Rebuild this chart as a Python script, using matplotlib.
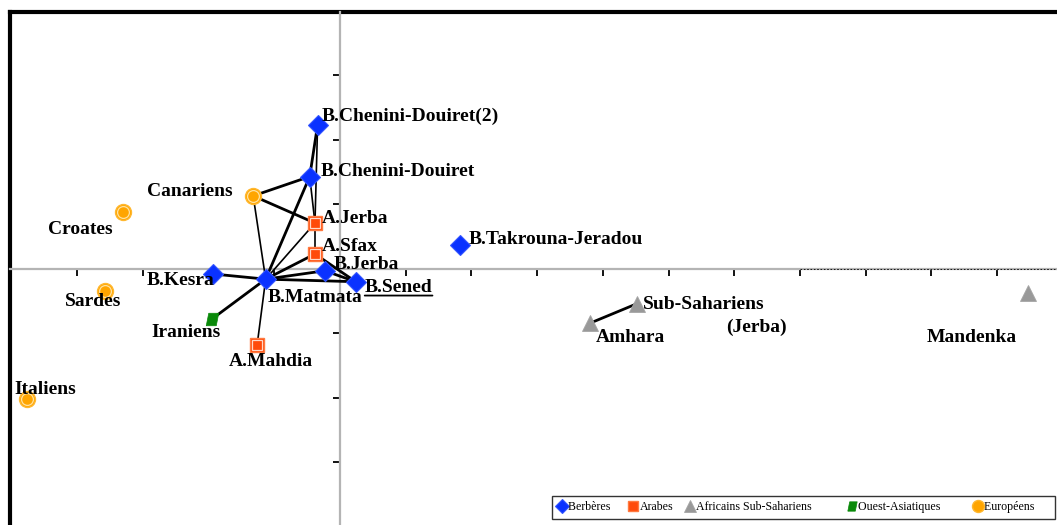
import matplotlib.pyplot as plt
from matplotlib.lines import Line2D

# population coordinates on the first two axes
names = [
    "B.Chenini-Douiret(2)", "B.Chenini-Douiret", "A.Jerba", "A.Sfax",
    "B.Jerba", "B.Sened", "B.Matmata", "B.Kesra", "B.Takrouna-Jeradou",
    "Canariens", "Croates", "Sardes", "Italiens", "Iraniens", "A.Mahdia",
    "Amhara", "Sub-Sahariens", "Mandenka",
]
x_vals = [
    -0.34, -0.46, -0.38, -0.38,
    -0.23, 0.24, -1.13, -1.93, 1.83,
    -1.32, -3.30, -3.58, -4.76, -1.95, -1.26,
    3.81, 4.52, 10.47,
]
y_vals = [
    2.23, 1.43, 0.71, 0.23,
    -0.03, -0.20, -0.16, -0.08, 0.37,
    1.13, 0.88, -0.34, -2.02, -0.78, -1.18,
    -0.84, -0.54, -0.37,
]
groups = [
    "Berbères", "Berbères", "Arabes", "Arabes",
    "Berbères", "Berbères", "Berbères", "Berbères", "Berbères",
    "Européens", "Européens", "Européens", "Européens", "Ouest-Asiatiques", "Arabes",
    "Africains Sub-Sahariens", "Africains Sub-Sahariens", "Africains Sub-Sahariens",
]

# links of the network drawn between populations
links = [
    ("B.Chenini-Douiret(2)", "B.Chenini-Douiret"),
    ("B.Chenini-Douiret(2)", "A.Jerba"),
    ("B.Chenini-Douiret", "A.Jerba"),
    ("B.Chenini-Douiret", "Canariens"),
    ("B.Chenini-Douiret", "B.Matmata"),
    ("Canariens", "A.Jerba"),
    ("Canariens", "B.Matmata"),
    ("A.Jerba", "A.Sfax"),
    ("A.Jerba", "B.Matmata"),
    ("A.Sfax", "B.Matmata"),
    ("A.Sfax", "B.Sened"),
    ("B.Jerba", "B.Matmata"),
    ("B.Jerba", "B.Sened"),
    ("B.Matmata", "B.Sened"),
    ("B.Matmata", "B.Kesra"),
    ("B.Matmata", "Iraniens"),
    ("B.Matmata", "A.Mahdia"),
    ("Amhara", "Sub-Sahariens"),
]
thin_links = {("B.Chenini-Douiret(2)", "A.Jerba"), ("B.Chenini-Douiret", "A.Jerba"),
              ("A.Jerba", "A.Sfax"), ("Canariens", "B.Matmata"),
              ("B.Matmata", "A.Mahdia"), ("A.Jerba", "B.Matmata")}

group_order = ["Berbères", "Arabes", "Africains Sub-Sahariens", "Ouest-Asiatiques", "Européens"]
# trailing padding reproduces the uneven spacing between legend entries
legend_pad = {"Berbères": "  ", "Arabes": "", "Africains Sub-Sahariens": "        ",
              "Ouest-Asiatiques": "       ", "Européens": "     "}

parallelogram = [(-1.0, -1.0), (0.6, -1.0), (1.0, 1.0), (-0.6, 1.0), (-1.0, -1.0)]
styles = {
    "Berbères": dict(marker="D", ms=10, mfc="#0A32FF", mec="#3355FF", mew=0.8),
    "Arabes": dict(marker="s", ms=9.5, mfc="#FF4A0A", mec="#FF7A40", mew=1.0),
    "Africains Sub-Sahariens": dict(marker="^", ms=11, mfc="#999999", mec="#A5A5A5", mew=0.6),
    "Ouest-Asiatiques": dict(marker=parallelogram, ms=9, mfc="#0A8A0A", mec="#0A8A0A", mew=0.5),
    "Européens": dict(marker="o", ms=11.5, mfc="#FFA500", mec="#FFB830", mew=1.0),
}
# inner ring drawn on top of some marker types
rings = {
    "Arabes": dict(marker="s", ms=6.5, mfc="none", mec="#FFD8C8", mew=0.9),
    "Européens": dict(marker="o", ms=8.5, mfc="none", mec="#FFE2A0", mew=0.9),
}

# label placement: (dx, dy) in pixels, horizontal alignment
label_pos = {
    "B.Chenini-Douiret(2)": (4, 9, "left"),
    "B.Chenini-Douiret": (11, 5, "left"),
    "A.Jerba": (7, 5, "left"),
    "A.Sfax": (7, 7, "left"),
    "B.Jerba": (9, 6, "left"),
    "B.Sened": (9, -6, "left"),
    "B.Matmata": (2, -18, "left"),
    "B.Kesra": (1, -7, "right"),
    "B.Takrouna-Jeradou": (8, 5, "left"),
    "Canariens": (-21, 4, "right"),
    "Croates": (-10, -17, "right"),
    "Sardes": (-12, -11, "center"),
    "Italiens": (-13, 10, "left"),
    "Iraniens": (9, -13, "right"),
    "A.Mahdia": (14, -17, "center"),
    "Amhara": (5, -14, "left"),
    "Sub-Sahariens": (6, -1, "left"),
    "Mandenka": (-56, -45, "center"),
}

plt.rcParams["font.family"] = ["Liberation Serif", "DejaVu Serif"]

fig = plt.figure(figsize=(10.57, 5.25), dpi=100)
rect = [10 / 1057, 0, 1047 / 1057, 513 / 525]

# outer frame: only its top and left edges are visible
frame = fig.add_axes(rect)
frame.set_xticks([])
frame.set_yticks([])
frame.patch.set_alpha(0)
for side in ["right", "bottom"]:
    frame.spines[side].set_visible(False)
for side in ["top", "left"]:
    frame.spines[side].set_linewidth(3)

ax = fig.add_axes(rect, zorder=2)
ax.patch.set_alpha(0)
ax.set_xlim(-5.02, 10.91)
ax.set_ylim(-3.97, 3.98)
ax.spines["left"].set_position("zero")
ax.spines["bottom"].set_position("zero")
ax.spines["right"].set_visible(False)
ax.spines["top"].set_visible(False)
for side in ["left", "bottom"]:
    ax.spines[side].set_color("#B4B4B4")
    ax.spines[side].set_linewidth(1.6)
ax.set_xticks(range(-5, 11))
ax.set_yticks(range(-3, 4))
ax.tick_params(direction="out", length=5, width=1.3, color="black",
               labelbottom=False, labelleft=False)
ax.plot([7, 10.91], [0, 0], color="black", lw=0.6, ls=(0, (2, 2)), zorder=2.6)

pos = {n: (x, y) for n, x, y in zip(names, x_vals, y_vals)}

for a, b in links:
    (xa, ya), (xb, yb) = pos[a], pos[b]
    lw = 1.2 if (a, b) in thin_links else 2.0
    ax.plot([xa, xb], [ya, yb], color="black", lw=lw, zorder=3, solid_capstyle="round")

for n, x, y, g in zip(names, x_vals, y_vals, groups):
    ax.plot(x, y, ls="none", zorder=4, **styles[g])
    if g in rings:
        ax.plot(x, y, ls="none", zorder=4.1, **rings[g])
    dx, dy, ha = label_pos[n]
    lbl = ax.annotate(n, (x, y), xytext=(dx, dy), textcoords="offset pixels",
                      ha=ha, va="center", fontsize=14, fontweight="bold", zorder=5)
    if n == "B.Sened":
        ax.annotate("", xy=(0, 0.04), xycoords=lbl, xytext=(1, 0.04), textcoords=lbl,
                    arrowprops=dict(arrowstyle="-", lw=1.3, shrinkA=0, shrinkB=0))
    if n == "Sub-Sahariens":
        ax.annotate("(Jerba)", (x, y), xytext=(89, -24), textcoords="offset pixels",
                    ha="left", va="center", fontsize=14, fontweight="bold", zorder=5)

handles = [Line2D([], [], ls="none", **dict(styles[g], ms=styles[g]["ms"] * 0.75))
           for g in group_order]
labels = [g + legend_pad[g] for g in group_order]
leg = ax.legend(handles, labels, ncol=5, loc="lower right",
                bbox_to_anchor=(0.998, 0.012), fontsize=8.6, frameon=True, fancybox=False,
                edgecolor="black", handlelength=0.8, handletextpad=0.1,
                columnspacing=1.0, borderpad=0.45, borderaxespad=0.0)
leg.get_frame().set_linewidth(1.0)

fig.savefig("out.png", dpi=100)
